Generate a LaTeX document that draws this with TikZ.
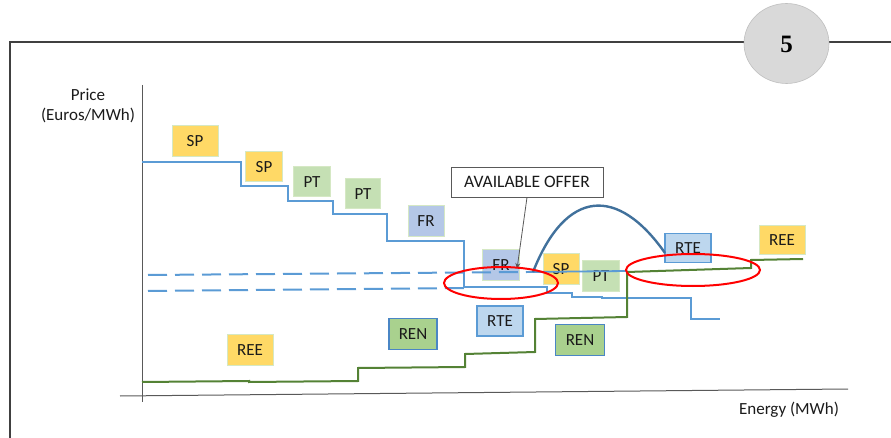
\documentclass[tikz,border=0pt]{standalone}
\usepackage{fontspec}
\setmainfont{Carlito}
\newfontfamily\numfont{Liberation Serif}
\usetikzlibrary{arrows.meta,shapes.geometric}
\definecolor{frameC}{HTML}{404040}
\definecolor{axisC}{HTML}{595959}
\definecolor{circF}{HTML}{D9D9D9}
\definecolor{circD}{HTML}{BFBFBF}
\definecolor{stepBlue}{HTML}{5B9BD5}
\definecolor{arcBlue}{HTML}{41719C}
\definecolor{demGreen}{HTML}{548235}
\definecolor{yelF}{HTML}{FFD966}
\definecolor{ptF}{HTML}{C5E0B4}
\definecolor{lgB}{HTML}{D5E8C4}
\definecolor{frF}{HTML}{B4C7E7}
\definecolor{rteF}{HTML}{BDD7EE}
\definecolor{renF}{HTML}{A9D18E}
\definecolor{renB}{HTML}{4A86C5}
\definecolor{txt}{HTML}{1A1A1A}
\tikzset{
  lbl/.style={font=\fontsize{17}{20}\selectfont, text=txt, inner sep=0pt},
  boxbase/.style={lbl, minimum width=46pt, minimum height=30pt, line width=1pt},
  yelbox/.style={boxbase, fill=yelF, draw=lgB},
  ptbox/.style={boxbase, fill=ptF, draw=lgB},
  frbox/.style={boxbase, fill=frF, draw=lgB},
  rtebox/.style={boxbase, fill=rteF, draw=stepBlue, line width=1.5pt},
  renbox/.style={boxbase, fill=renF, draw=renB, line width=1.5pt},
  stepline/.style={draw=stepBlue, line width=1.4pt},
  dashline/.style={draw=stepBlue, line width=2pt, dash pattern=on 19pt off 8pt},
  demline/.style={draw=demGreen, line width=2pt},
  redring/.style={draw=red, line width=2pt},
}
\begin{document}
\begin{tikzpicture}[x=1pt,y=-1pt]
\useasboundingbox (0,0) rectangle (891,438);
% frame
\draw[frameC, line width=1.4pt] (10,438) -- (10,42) -- (891,42);
\node[ellipse, fill=circF, draw=circD, line width=0.6pt, minimum width=85pt, minimum height=80pt, inner sep=0pt] (pg) at (786.5,43.5) {};
\node[font=\numfont\fontsize{25}{27}\selectfont] (pgnum) at (786.5,44) {\textbf{5}};
% axes
\draw[axisC, line width=1pt] (142,85) -- (142,402);
\draw[axisC, line width=1pt] (120,396) -- (848,389);
\node[lbl, align=center] (price) at (88,106) {Price\\(Euros/MWh)};
\node[lbl] (energy) at (789,410) {Energy (MWh)};
% boxes
\node[yelbox, minimum width=46pt, minimum height=31pt] (sp1) at (195,141) {SP};
\node[yelbox, minimum width=37pt] (sp2) at (264,167) {SP};
\node[ptbox, minimum width=37pt] (pt1) at (312,182) {PT};
\node[ptbox, minimum width=35pt] (pt2) at (363,194) {PT};
\node[frbox, minimum width=36pt, minimum height=31pt] (fr1) at (426,221) {FR};
\node[frbox, minimum width=37pt, minimum height=31pt] (fr2) at (501,265) {FR};
\node[yelbox, minimum width=36pt] (sp3) at (561,269) {SP};
\node[ptbox, minimum width=37pt, minimum height=31pt] (pt3) at (601,276) {PT};
\node[rtebox, minimum width=46pt, minimum height=29pt] (rte1) at (688,248) {RTE};
\node[yelbox, minimum width=46pt, minimum height=29pt] (ree1) at (782,240) {REE};
\node[rtebox, minimum width=46pt] (rte2) at (500,321) {RTE};
\node[renbox, minimum width=48pt, minimum height=31pt] (ren1) at (413,334) {REN};
\node[renbox, minimum width=49pt, minimum height=31pt] (ren2) at (580,340) {REN};
\node[yelbox, minimum width=46pt, minimum height=31pt] (ree2) at (250,350) {REE};
% supply step line
\draw[stepline] (142,162) -- (241,162) -- (241,186) -- (288,186) -- (288,201)
  -- (333,201) -- (333,214) -- (387,214) -- (387,241) -- (464,241) -- (464,287)
  -- (547,287) -- (547,293) -- (572,293) -- (572,297) -- (602,297) -- (602,298)
  -- (691,298) -- (691,319) -- (720,319);
% dashed price levels
\draw[dashline] (148,275) -- (527,272);
\draw[dashline] (148,291) -- (464,288);
\draw[stepline, line width=1.8pt] (527,272) -- (627,271);
% arc
\draw[arcBlue, line width=2.4pt] (533,272) .. controls (566,188) and (618,186) .. (665,253);
% demand step line
\draw[demline] (142,382) -- (249,381) -- (249,382) -- (358,381) -- (358,368)
  -- (465,367) -- (465,354) -- (535,352) -- (535,319) -- (627,317)
  -- (627,272) -- (751,268) -- (751,260) -- (803,259);
% available offer
\node[lbl, draw=axisC, fill=white, line width=0.8pt, minimum width=152pt, minimum height=30pt, font=\fontsize{17.5}{20}\selectfont] (avail) at (527,182) {AVAILABLE OFFER};
\coordinate (tip) at (517,269);
\draw[axisC, line width=0.8pt, -{Stealth[length=6pt,width=5pt]}] (avail.south) -- (tip);
% red rings
\draw[redring] (501,283) ellipse [x radius=57, y radius=16];
\draw[redring] (693,270) ellipse [x radius=67, y radius=16];
\end{tikzpicture}
\end{document}
